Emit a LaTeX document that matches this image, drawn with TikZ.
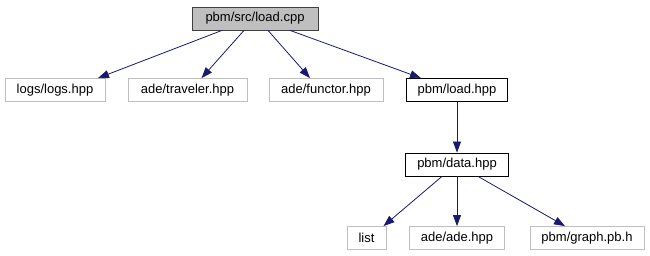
\documentclass[tikz,border=0pt]{standalone}
\usepackage{fontspec}
\setmainfont{Liberation Sans}
\usetikzlibrary{arrows.meta}
\definecolor{edgeblue}{HTML}{191970}
\definecolor{extgray}{HTML}{BFBFBF}
\definecolor{rootfill}{HTML}{BFBFBF}
\tikzset{
  filebox/.style={draw=black, line width=0.8pt, fill=white, inner sep=0pt,
    minimum height=23pt, font=\fontsize{13}{15}\selectfont},
  extbox/.style={filebox, draw=extgray},
  rootbox/.style={filebox, draw=black!75, fill=rootfill},
  dep/.style={draw=edgeblue, line width=0.8pt,
    -{Triangle[length=11pt,width=8pt,fill=edgeblue]}},
}
\begin{document}
\begin{tikzpicture}[x=1pt,y=-1pt]
  \useasboundingbox (0,0) rectangle (650,256);
  % source file
  \node[rootbox, minimum width=126pt] (root) at (255,18.5) {pbm/src/load.cpp};
  % direct includes
  \node[extbox, minimum width=100pt] (logs) at (55,90) {logs/logs.hpp};
  \node[extbox, minimum width=119pt] (trav) at (187.5,90) {ade/traveler.hpp};
  \node[extbox, minimum width=114pt] (func) at (326,90) {ade/functor.hpp};
  \node[filebox, minimum width=101pt] (load) at (457,90) {pbm/load.hpp};
  % second level
  \node[filebox, minimum width=103pt] (data) at (457,164.5) {pbm/data.hpp};
  % third level
  \node[extbox, minimum width=39pt] (list) at (366.5,238) {list};
  \node[extbox, minimum width=95pt] (ade) at (457,238) {ade/ade.hpp};
  \node[extbox, minimum width=114pt] (graph) at (587,238) {pbm/graph.pb.h};
  % include edges
  \draw[dep] ([xshift=-33pt]root.south) -- ([xshift=43pt]logs.north);
  \draw[dep] ([xshift=-11pt]root.south) -- ([xshift=14pt]trav.north);
  \draw[dep] ([xshift=13pt]root.south) -- ([xshift=-16pt]func.north);
  \draw[dep] ([xshift=35pt]root.south) -- ([xshift=-36pt]load.north);
  \draw[dep] (load.south) -- (data.north);
  \draw[dep] ([xshift=-15pt]data.south) -- ([xshift=17pt]list.north);
  \draw[dep] (data.south) -- (ade.north);
  \draw[dep] ([xshift=21pt]data.south) -- ([xshift=-22pt]graph.north);
\end{tikzpicture}
\end{document}
